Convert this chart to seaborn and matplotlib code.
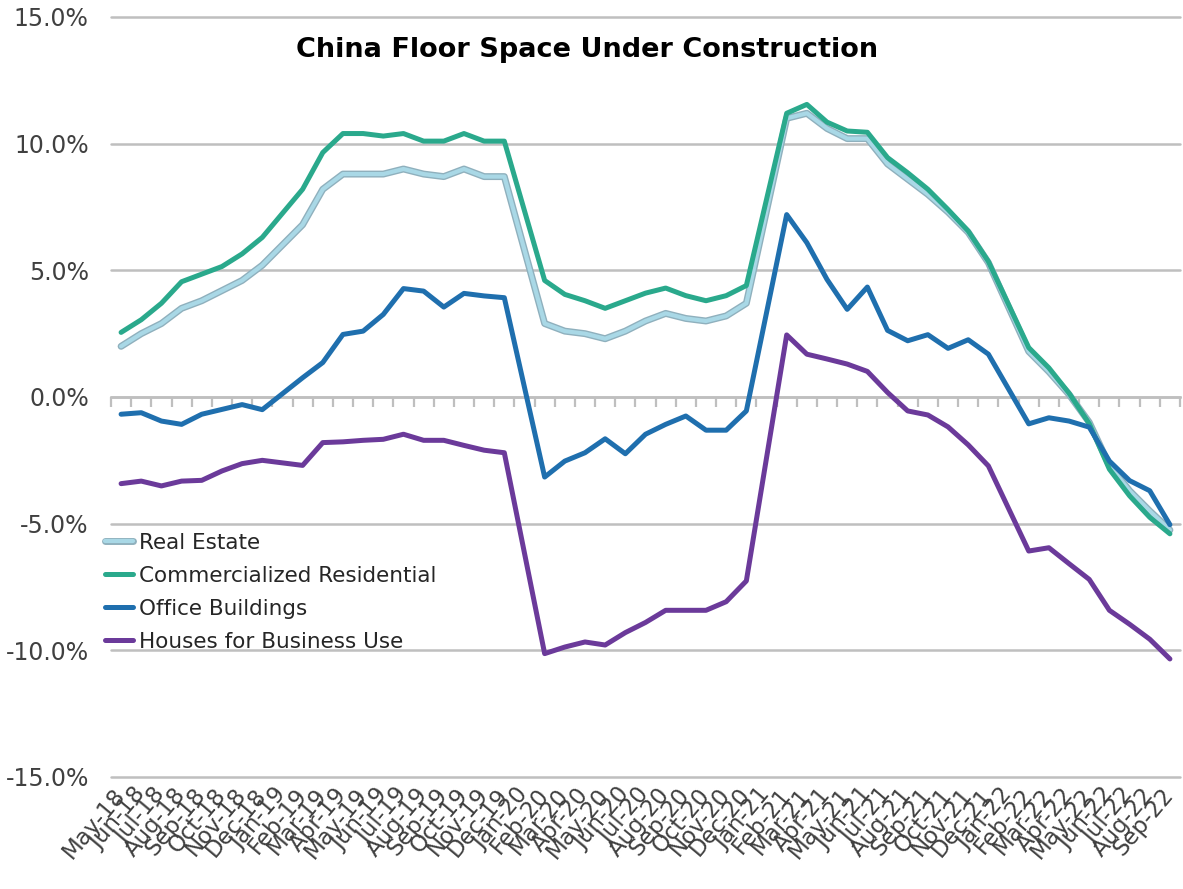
import numpy as np
import pandas as pd
import seaborn as sns
import matplotlib.pyplot as plt
import matplotlib.patheffects as pe

# Meses (no hay dato de enero: el dato chino se publica acumulado ene-feb)
months = pd.date_range("2018-05-01", "2022-09-01", freq="MS").strftime("%b-%y").tolist()
nan = np.nan

real_estate = [2.0, 2.5, 2.9, 3.5, 3.8, 4.2, 4.6, 5.2, nan, 6.8,
               8.2, 8.8, 8.8, 8.8, 9.0, 8.8, 8.7, 9.0, 8.7, 8.7,
               nan, 2.9, 2.6, 2.5, 2.3, 2.6, 3.0, 3.3, 3.1, 3.0,
               3.2, 3.7, nan, 11.0, 11.2, 10.6, 10.2, 10.2, 9.2, 8.6,
               8.0, 7.3, 6.5, 5.3, nan, 1.8, 1.0, 0.1, -1.0, -2.7,
               -3.7, -4.5, -5.25]
residential = [2.55, 3.05, 3.7, 4.55, 4.85, 5.15, 5.65, 6.3, nan, 8.2,
               9.65, 10.4, 10.4, 10.3, 10.4, 10.1, 10.1, 10.4, 10.1, 10.1,
               nan, 4.6, 4.05, 3.8, 3.5, 3.8, 4.1, 4.3, 4.0, 3.8,
               4.0, 4.4, nan, 11.2, 11.55, 10.85, 10.5, 10.45, 9.45, 8.85,
               8.2, 7.4, 6.55, 5.35, nan, 1.95, 1.15, 0.15, -1.05, -2.85,
               -3.9, -4.75, -5.4]
office = [-0.68, -0.62, -0.95, -1.08, -0.68, -0.49, -0.3, -0.5, nan, 0.76,
          1.36, 2.47, 2.6, 3.26, 4.28, 4.18, 3.55, 4.09, 3.99, 3.92,
          nan, -3.16, -2.53, -2.2, -1.65, -2.24, -1.47, -1.08, -0.75, -1.31,
          -1.31, -0.55, nan, 7.2, 6.09, 4.64, 3.46, 4.34, 2.63, 2.22,
          2.46, 1.92, 2.26, 1.69, nan, -1.06, -0.82, -0.95, -1.19, -2.53,
          -3.3, -3.7, -5.04]
business = [-3.42, -3.32, -3.51, -3.32, -3.29, -2.92, -2.63, -2.5, nan, -2.7,
            -1.8, -1.77, -1.71, -1.67, -1.47, -1.71, -1.71, -1.91, -2.1, -2.2,
            nan, -10.13, -9.87, -9.67, -9.79, -9.3, -8.9, -8.42, -8.42, -8.42,
            -8.08, -7.26, nan, 2.45, 1.69, 1.5, 1.3, 1.01, 0.18, -0.55,
            -0.71, -1.18, -1.89, -2.72, nan, -6.08, -5.95, -6.58, -7.2, -8.42,
            -8.97, -9.56, -10.34]

series_names = ["Real Estate", "Commercialized Residential",
                "Office Buildings", "Houses for Business Use"]
colors = ["#a9d8e6", "#2aa98c", "#1f6fae", "#6b3a9a"]

df = pd.DataFrame({"month": months, "pos": range(len(months)),
                   series_names[0]: real_estate, series_names[1]: residential,
                   series_names[2]: office, series_names[3]: business})
long = df.melt(id_vars=["month", "pos"], value_vars=series_names,
               var_name="series", value_name="growth").dropna()

sns.set_style("white")
plt.rcParams["font.family"] = ["DejaVu Sans"]

W, H = 1183, 889
n = len(months)
fig = plt.figure(figsize=(W / 100, H / 100), dpi=100)
rect = [111 / W, 112 / H, 1069 / W, 760 / H]

# ejes de fondo: solo las marcas de categoria sobre la linea de 0%
ax0 = fig.add_axes(rect, zorder=1)
ax0.set_xlim(-0.5, n - 0.5)
ax0.set_ylim(-15, 15)
ax0.set_yticks([])
for k in ["top", "left", "right"]:
    ax0.spines[k].set_visible(False)
ax0.spines["bottom"].set_position(("data", 0))
ax0.spines["bottom"].set_color("#bfbfbf")
ax0.spines["bottom"].set_linewidth(1.8)
ax0.set_xticks(np.arange(-0.5, n, 1))
ax0.tick_params(axis="x", bottom=True, direction="out", length=7, width=1.6,
                color="#bfbfbf", labelbottom=False)

ax = fig.add_axes(rect, zorder=2)
ax.patch.set_visible(False)

sns.lineplot(data=long, x="pos", y="growth", hue="series", hue_order=series_names,
             palette=dict(zip(series_names, colors)), estimator=None, sort=True,
             linewidth=3.6, legend=False, ax=ax)

for ln in ax.lines:
    ln.set_solid_joinstyle("round")
    ln.set_solid_capstyle("round")
# Real Estate lleva borde gris
ax.lines[0].set_linewidth(3.0)
ax.lines[0].set_path_effects([pe.Stroke(linewidth=5.0, foreground="#8fb0bd"), pe.Normal()])

ax.set_xlim(-0.5, n - 0.5)
ax.set_ylim(-15, 15)
ax.set_yticks(np.arange(-15, 16, 5))
ax.set_yticklabels([f"{v:.1f}%" for v in np.arange(-15, 16, 5)])
ax.set_xticks(range(n))
ax.set_xticklabels(months, rotation=50, ha="right", va="center", rotation_mode="anchor")
ax.tick_params(axis="y", length=0, pad=16, labelsize=17, labelcolor="#404040")
ax.tick_params(axis="x", length=0, pad=10, labelsize=16.5, labelcolor="#404040")
ax.set_xlabel("")
ax.set_ylabel("")
for s in ax.spines.values():
    s.set_visible(False)

ax.yaxis.grid(True, color="#bfbfbf", linewidth=1.8)
ax.xaxis.grid(False)
ax.set_axisbelow(True)
for g in ax.get_ygridlines():
    g.set_clip_on(False)

ax.legend(handles=ax.lines[:4], labels=series_names, loc="upper left",
          bbox_to_anchor=(105 / W, 1 - 533 / H), bbox_transform=fig.transFigure,
          frameon=False, fontsize=15.5, handlelength=1.3, handletextpad=0.3,
          labelspacing=0.6, borderpad=0, borderaxespad=0, labelcolor="#262626")

fig.text(587 / W, 1 - 50 / H, "China Floor Space Under Construction",
         ha="center", va="center", fontsize=19.5, fontweight="bold", color="black")

fig.savefig("out.png", dpi=100)
